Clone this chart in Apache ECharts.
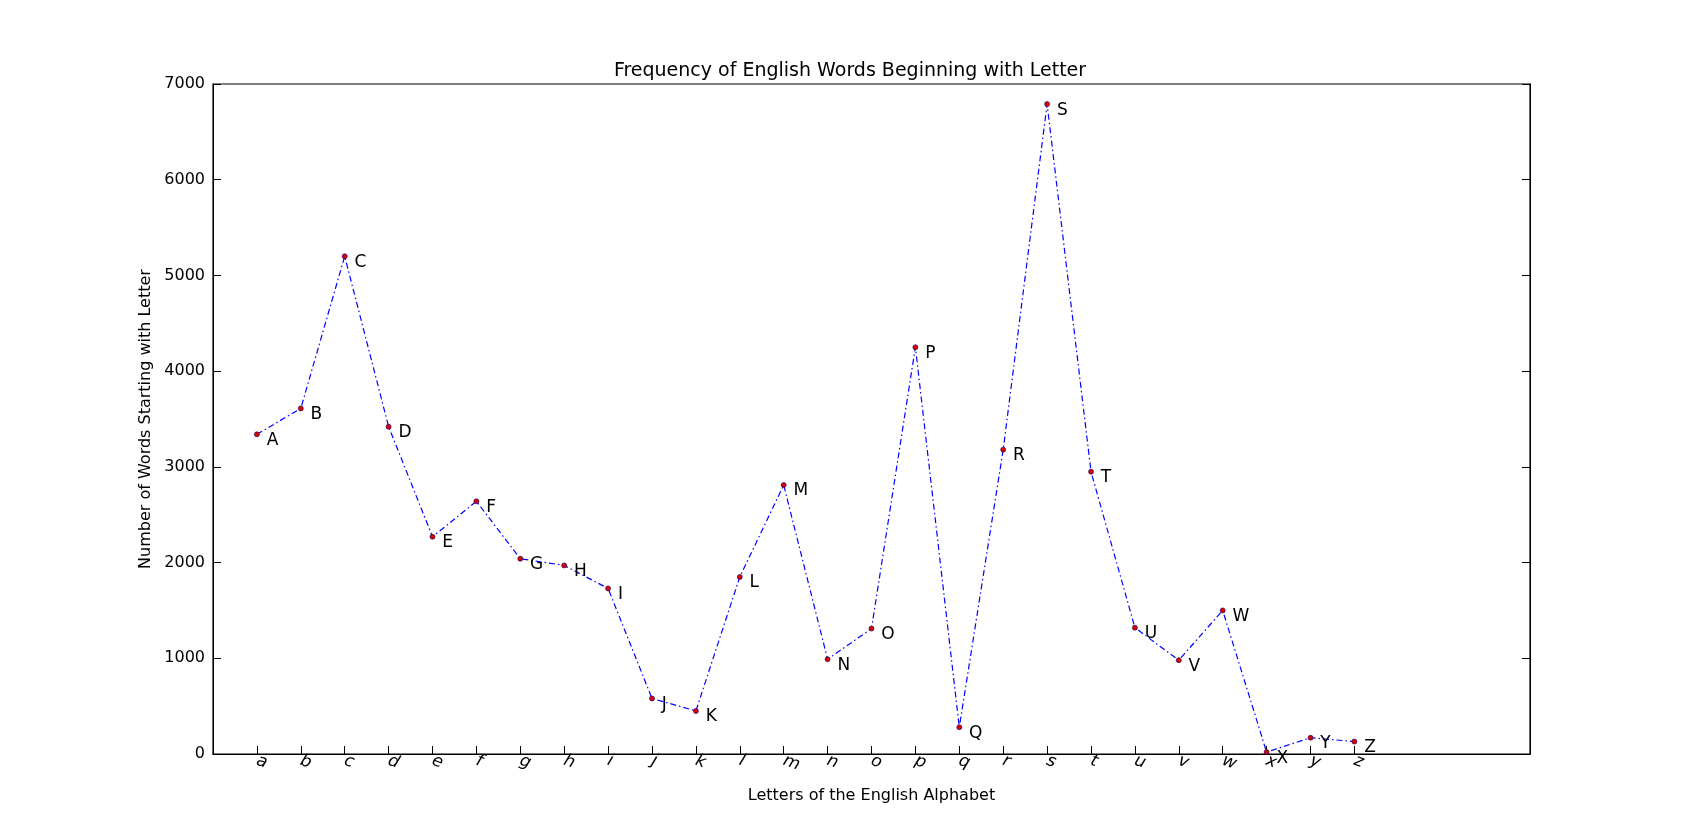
<!DOCTYPE html><html><head><meta charset="utf-8"><script src="https://cdn.jsdelivr.net/npm/echarts@6/dist/echarts.min.js"></script>
<style>html,body{margin:0;background:#fff}#c{width:1700px;height:838px}</style></head><body><div id="c"></div><script>
const letters = ['a','b','c','d','e','f','g','h','i','j','k','l','m','n','o','p','q','r','s','t','u','v','w','x','y','z'];
const counts = [3340,3610,5200,3420,2270,2640,2040,1970,1730,580,450,1850,2810,990,1310,4250,280,3180,6790,2950,1320,980,1500,20,170,130];
const yTicks = [0,1000,2000,3000,4000,5000,6000,7000];
const data = letters.map((l,i)=>[i+1,counts[i],l.toUpperCase()]);
const pos = letters.map((l,i)=>i+1);
const font = 'DejaVu Sans';
const chart = echarts.init(document.getElementById('c'));
chart.setOption({
  animation:false,
  title:{text:'Frequency of English Words Beginning with Letter',left:'center',top:57,textStyle:{fontFamily:font,fontSize:19,fontWeight:'normal',color:'#000'}},
  grid:{left:213,right:170,top:84,bottom:84,show:true,borderColor:'#000',borderWidth:1.2},
  xAxis:{type:'value',min:0,max:30,name:'Letters of the English Alphabet',nameLocation:'middle',nameGap:34,
    nameTextStyle:{fontFamily:font,fontSize:16,color:'#000'},
    axisLine:{lineStyle:{color:'#000'}},splitLine:{show:false},
    axisTick:{inside:true,length:8,lineStyle:{color:'#000'},customValues:pos},
    axisLabel:{customValues:pos,formatter:v=>letters[v-1]||'',rotate:-20,fontFamily:font,fontStyle:'italic',fontSize:17,color:'#000',margin:6}},
  yAxis:[{type:'value',min:0,max:7000,interval:1000,name:'Number of Words Starting with Letter',nameLocation:'middle',nameGap:58,
    nameTextStyle:{fontFamily:font,fontSize:16,color:'#000'},
    axisLine:{show:true,lineStyle:{color:'#000'}},splitLine:{show:false},
    axisTick:{inside:true,length:8,lineStyle:{color:'#000'}},
    axisLabel:{formatter:v=>yTicks.includes(v)?String(v):'',fontFamily:font,fontSize:16,color:'#000'}},
   {type:'value',min:0,max:7000,interval:1000,position:'right',axisLine:{show:true,lineStyle:{color:'#000'}},splitLine:{show:false},
    axisTick:{inside:true,length:8,lineStyle:{color:'#000'}},axisLabel:{show:false}}],
  series:[{type:'line',data:data,symbol:'circle',symbolSize:5,
    itemStyle:{color:'#e00000',borderColor:'#000060',borderWidth:0.6},
    lineStyle:{color:'#0000ff',width:1.2,type:[6,3,1.5,3]},
    label:{show:true,position:'right',offset:[2,6],formatter:p=>p.data[2],fontFamily:font,fontSize:17,color:'#000'}}]
});
</script></body></html>
